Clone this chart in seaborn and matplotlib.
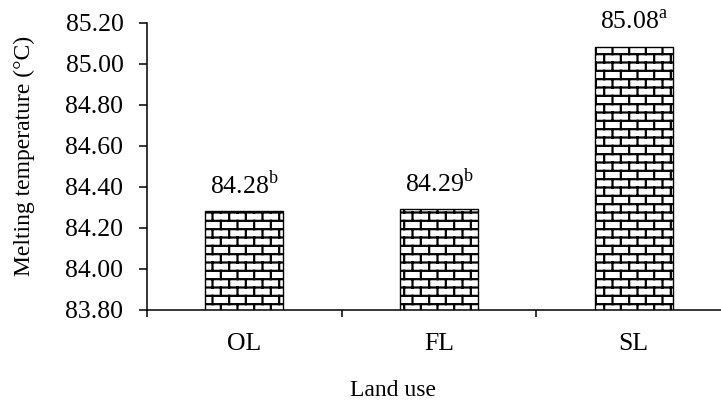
import numpy as np
import matplotlib
matplotlib.use('Agg')
import matplotlib.pyplot as plt
import matplotlib.hatch as mhatch
from matplotlib.ticker import FormatStrFormatter, FixedLocator
import seaborn as sns

# Data
land_use = ['OL', 'FL', 'SL']
melting_temp = [84.28, 84.29, 85.08]
letters = ['b', 'b', 'a']
y_ticks = [83.80, 84.00, 84.20, 84.40, 84.60, 84.80, 85.00, 85.20]


# Brick hatch: 12 mortar rows and 6 bricks per row in one hatch tile,
# used in place of the normal '+' pattern
class BrickHatch(mhatch.HatchPatternBase):
    rows, cols = 12, 6

    def __init__(self, hatch, density):
        on = '+' in hatch
        self.num_vertices = (self.rows * 2 + self.rows * self.cols * 2 + self.cols * 2) if on else 0

    def set_vertices_and_codes(self, vertices, codes):
        h = 1.0 / self.rows
        w = 1.0 / self.cols
        segs = []
        for r in range(self.rows):
            y = (r + 0.5) * h
            segs.append(((0.0, y), (1.0, y)))
        for r in range(self.rows):
            y0 = (r + 0.5) * h
            y1 = y0 + h
            shift = 0.5 * w * (r % 2)
            for c in range(self.cols):
                x = c * w + 0.25 * w + shift
                if y1 > 1:
                    segs.append(((x, y0), (x, 1.0)))
                    segs.append(((x, 0.0), (x, y1 - 1.0)))
                else:
                    segs.append(((x, y0), (x, y1)))
        pts = np.array(segs).reshape(-1, 2)
        vertices[:] = pts
        codes[0::2] = matplotlib.path.Path.MOVETO
        codes[1::2] = matplotlib.path.Path.LINETO


mhatch._hatch_types = [BrickHatch]

plt.rcParams['font.family'] = ['Liberation Serif', 'DejaVu Serif']
plt.rcParams['mathtext.fontset'] = 'custom'
plt.rcParams['mathtext.rm'] = 'Liberation Serif'
plt.rcParams['hatch.linewidth'] = 1.6
plt.rcParams['hatch.color'] = 'black'

fig = plt.figure(figsize=(7.21, 4.01), dpi=100)
ax = fig.add_axes([147 / 721, 1 - 309.5 / 401, 584 / 721, (309.5 - 22.7) / 401])

sns.barplot(x=land_use, y=melting_temp, color='white', saturation=1, width=0.4,
            edgecolor='black', linewidth=1.0, hatch='+', ax=ax)

ax.set_ylim(83.80, 85.20)
ax.set_xlim(-0.5, 2.5)
ax.yaxis.set_major_locator(FixedLocator(y_ticks))
ax.yaxis.set_major_formatter(FormatStrFormatter('%.2f'))

for i, (v, l) in enumerate(zip(melting_temp, letters)):
    ax.annotate(f'{v:.2f}$^{{\\mathrm{{{l}}}}}$', (i, v), xytext=(0, 9),
                textcoords='offset points', ha='center', va='bottom', fontsize=18.5)

for s in ['top', 'right']:
    ax.spines[s].set_visible(False)
for s in ['left', 'bottom']:
    ax.spines[s].set_linewidth(1.1)
    ax.spines[s].set_color('black')

ax.tick_params(axis='y', direction='out', length=6, width=1.1, pad=11, labelsize=18.5)
ax.tick_params(axis='x', which='major', length=0, pad=17, labelsize=18.5)
ax.xaxis.set_minor_locator(FixedLocator([-0.5, 0.5, 1.5, 2.5]))
ax.tick_params(axis='x', which='minor', direction='out', length=5, width=1.1)

ax.set_xlabel('Land use', fontsize=17)
ax.xaxis.set_label_coords((393 - 147) / 584, (309.5 - 380) / 286.8)
ax.set_ylabel('Melting temperature (°C)', fontsize=17, va='center')
ax.yaxis.set_label_coords((24 - 147) / 584, 0.536)

fig.savefig('out.png', dpi=100)
